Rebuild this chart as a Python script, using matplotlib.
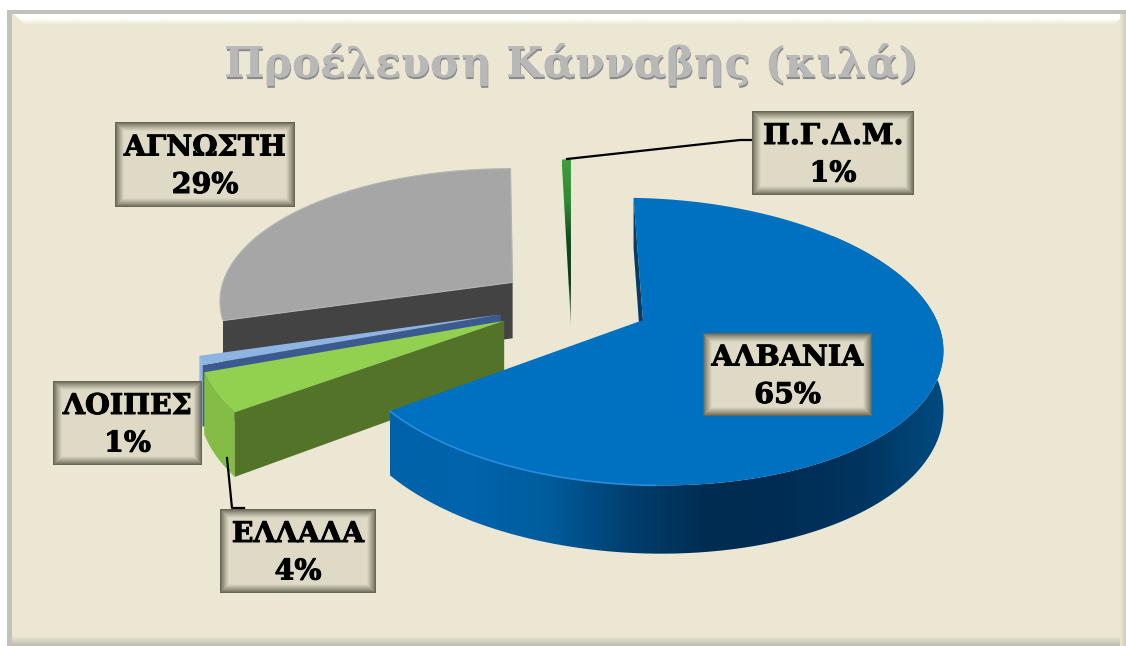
import numpy as np
import matplotlib
matplotlib.use("Agg")
import matplotlib.pyplot as plt
import matplotlib.patheffects as pe
from matplotlib.colors import LinearSegmentedColormap
from matplotlib.patches import Polygon, Rectangle

# data, clockwise from the start angle
categories = ["ΑΛΒΑΝΙΑ", "ΕΛΛΑΔΑ", "ΛΟΙΠΕΣ", "ΑΓΝΩΣΤΗ", "Π.Γ.Δ.Μ."]
values = [64.6, 4.4, 1.0, 29.4, 0.6]
percent_labels = ["65%", "4%", "1%", "29%", "1%"]
title = "Προέλευση Κάνναβης (κιλά)"

# layout: how far each slice is pulled out of the pie (disc units)
explode_u = [0.01, -0.455, -0.47, -0.445, -0.245]
explode_v = [0.0, 0.035, -0.01, -0.25, -0.36]
label_boxes = [(703, 333, 872, 416), (220, 509, 376, 593), (53, 381, 202, 465),
               (115, 122, 295, 207), (752, 111, 914, 195)]

START_ANGLE = -2.0
CX, CY = 640, 320  # centre of the pie on the picture
RX, RY = 297, 140.3  # radius of the disc
PERSP = 0.15  # perspective strength
SHEAR = 0.03  # the pie plane leans a little to the right
DEPTH = 58  # thickness of the pie
BG = "#ebe7d2"
FONT = "DejaVu Serif"

fig = plt.figure(figsize=(11.26, 6.46), dpi=100)
ax = fig.add_axes([0, 0, 1, 1])
ax.set_xlim(0, 1126)
ax.set_ylim(646, 0)
ax.axis("off")

z_counter = [1]


def next_z():
    z_counter[0] += 1
    return z_counter[0]


def project(u, v):
    """disc coordinates -> picture coordinates, last value is the visible depth"""
    w = 1 - PERSP * v
    x = CX + RX * u / w
    return x, CY + RY * v / w + SHEAR * (x - CX), DEPTH / w


def rim(angles, du, dv):
    t = np.radians(angles)
    return project(np.sin(t) + du, -np.cos(t) + dv)


def poly(x, y, color, edge="none", lw=0):
    ax.add_patch(Polygon(np.column_stack([x, y]), closed=True, facecolor=color,
                         edgecolor=edge, linewidth=lw, zorder=next_z()))


def grad_poly(x, y, colors, vertical=False):
    """polygon filled with a linear gradient"""
    x0, x1, y0, y1 = np.min(x), np.max(x), np.min(y), np.max(y)
    cmap = LinearSegmentedColormap.from_list("g", colors)
    ramp = np.linspace(0, 1, 256)
    ramp = ramp.reshape(-1, 1) if vertical else ramp.reshape(1, -1)
    z = next_z()
    im = ax.imshow(ramp, cmap=cmap, extent=(x0, x1, y1, y0), aspect="auto", zorder=z,
                   vmin=0, vmax=1, interpolation="bilinear")
    clip = Polygon(np.column_stack([x, y]), closed=True, transform=ax.transData)
    im.set_clip_path(clip)


def rim_face(t0, t1, du, dv):
    ang = np.linspace(t0, t1, 150)
    x, y, d = rim(ang, du, dv)
    return np.r_[x, x[::-1]], np.r_[y, (y + d)[::-1]]


def radial_face(t, du, dv):
    xa, ya, da = project(du, dv)
    xr, yr, dr = rim(np.array([t]), du, dv)
    return np.array([xa, xr[0], xr[0], xa]), np.array([ya, yr[0], yr[0] + dr[0], ya + da])


def top_face(t0, t1, du, dv):
    xa, ya, _ = project(du, dv)
    x, y, _ = rim(np.linspace(t0, t1, 150), du, dv)
    return np.r_[xa, x], np.r_[ya, y]


# panel with bevelled frame
ax.add_patch(Rectangle((7, 10), 1119, 636, facecolor="#c2c2bc", edgecolor="none", zorder=next_z()))
ax.add_patch(Rectangle((12, 13), 1114, 633, facecolor=BG, edgecolor="none", zorder=next_z()))
grad_poly(np.array([13, 1126, 1114, 25]), np.array([13, 13, 25, 25]),
          ["#fffffb", "#fffffb", "#fffffb", "#f6f3e4", BG], vertical=True)
grad_poly(np.array([12, 1126, 1126, 12]), np.array([636, 636, 646, 646]), [BG, "#bdbbae"], vertical=True)
grad_poly(np.array([1120, 1126, 1126, 1120]), np.array([13, 13, 646, 646]), [BG, "#cfccb9"])
ax.add_patch(Rectangle((7, 10), 1119, 3.5, facecolor="#c2c2bc", edgecolor="none", zorder=next_z()))

# slice angles come from the values
edges = START_ANGLE + np.r_[0, np.cumsum(values)] * 3.6
a0 = dict(zip(categories, edges[:-1]))
a1 = dict(zip(categories, edges[1:]))
du = dict(zip(categories, explode_u))
dv = dict(zip(categories, explode_v))

# unknown (grey), farthest back
n = "ΑΓΝΩΣΤΗ"
poly(*radial_face(a0[n], du[n], dv[n]), "#434343")
poly(*top_face(a0[n], a1[n], du[n], dv[n]), "#a6a6a6", edge="#b4b4b0", lw=0.8)

# FYROM sliver, it fades towards the tip at the bottom
n = "Π.Γ.Δ.Μ."
xs, ys, _ = rim(np.linspace(a0[n], a1[n], 20), du[n], dv[n])
xa, ya, da = project(du[n], dv[n])
grad_poly(np.r_[xs, xa], np.r_[ys, ya + da], ["#3f9f3f", "#2f8a35", "#114a1c", "#0f3a18", "#8f9a80"], vertical=True)

# others (light blue)
n = "ΛΟΙΠΕΣ"
poly(*rim_face(a0[n], a1[n], du[n], dv[n]), "#8eb4e3")
poly(*radial_face(a0[n], du[n], dv[n]), "#3b5b8e")
poly(*top_face(a0[n], a1[n], du[n], dv[n]), "#8eb4e3")

# Greece (green)
n = "ΕΛΛΑΔΑ"
poly(*rim_face(a0[n], a1[n], du[n], dv[n]), "#84bc45")
poly(*radial_face(a0[n], du[n], dv[n]), "#537329")
poly(*top_face(a0[n], a1[n], du[n], dv[n]), "#92d050")

# Albania (blue), nearest
n = "ΑΛΒΑΝΙΑ"
poly(*radial_face(a0[n], du[n], dv[n]), "#0a3a63")
rx, ry = rim_face(45, a1[n], du[n], dv[n])
grad_poly(rx, ry, ["#0062a8", "#0064ac", "#005c9c", "#003f6f", "#002c52", "#002d54", "#003560", "#004b80"])
poly(*top_face(a0[n], a1[n], du[n], dv[n]), "#0070c0")
hx, hy, _ = rim(np.linspace(178, a1[n], 80), du[n], dv[n])
ax.plot(hx, hy, color="#2a8ddc", lw=1.2, zorder=next_z(), solid_capstyle="round")

# leader lines
ax.plot([567, 740, 752], [159, 140, 140], color="black", lw=1.6, zorder=next_z())
ax.plot([227, 232, 244], [458, 508, 508], color="black", lw=1.6, zorder=next_z())

# data labels, boxes darken towards their edges
edge_col = np.array([0x5c, 0x59, 0x4a]) / 255
mid_col = np.array([0xde, 0xda, 0xc5]) / 255
heavy = [pe.withStroke(linewidth=0.7, foreground="black")]
for name, pct, box in zip(categories, percent_labels, label_boxes):
    x0, y0, x1, y1 = box
    yy, xx = np.mgrid[0:y1 - y0, 0:x1 - x0]
    dist = np.minimum.reduce([xx + 0.5, x1 - x0 - xx - 0.5, yy + 0.5, y1 - y0 - yy - 0.5])
    f = np.clip(dist / 9, 0, 1)[..., None] ** 0.8
    ax.imshow(edge_col + (mid_col - edge_col) * f, extent=(x0, x1, y1, y0), aspect="auto",
              zorder=next_z(), interpolation="bilinear")
    cx = (x0 + x1) / 2
    cy = (y0 + y1) / 2
    z = next_z()
    ax.text(cx, cy - 16.5, name, ha="center", va="center", family=FONT, weight="bold",
            fontsize=20.5, color="black", zorder=z, path_effects=heavy)
    ax.text(cx, cy + 21, pct, ha="center", va="center", family=FONT, weight="bold",
            fontsize=20.5, color="black", zorder=z, path_effects=heavy)

# title
ax.text(572, 77, title, ha="center", va="baseline", family=FONT, weight="bold", fontsize=30.3,
        color="#b8b8b8", zorder=next_z(),
        path_effects=[pe.withSimplePatchShadow(offset=(0.5, -1.5), shadow_rgbFace="#8a8a8a", alpha=1.0), pe.Normal()])

ax.set_xlim(0, 1126)
ax.set_ylim(646, 0)
fig.savefig("out.png", dpi=100, facecolor="white")
